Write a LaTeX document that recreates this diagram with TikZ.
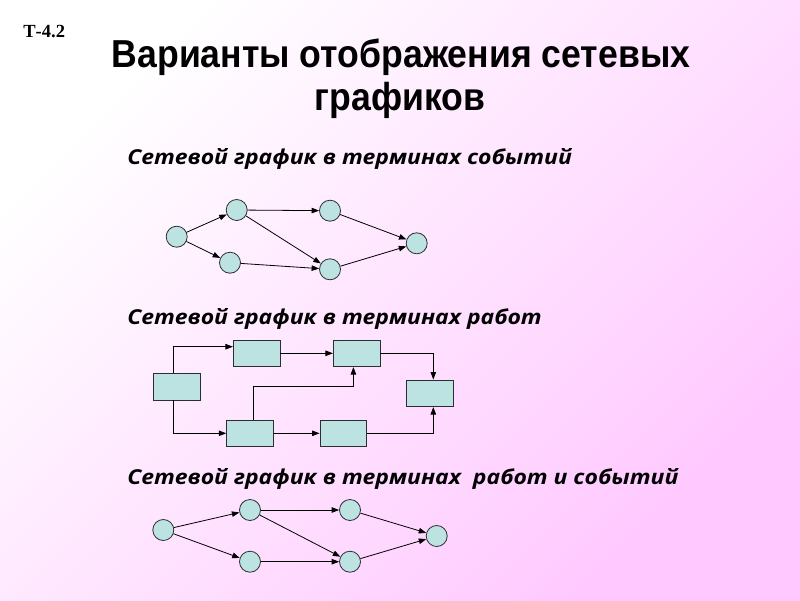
\documentclass[tikz,border=0pt]{standalone}
\usepackage{fontspec}
\setmainfont{Liberation Serif}
\newfontfamily\titlefont[FakeStretch=0.913]{Liberation Sans}
\newfontfamily\headfont[FakeStretch=1.12]{Open Sans}
\usetikzlibrary{arrows.meta}
\definecolor{nodefill}{RGB}{189,226,226}
\definecolor{pinkbg}{RGB}{255,200,255}
\definecolor{linegray}{RGB}{45,45,45}
\tikzset{
  ev/.style={circle, draw=linegray, fill=nodefill, minimum size=21pt, inner sep=0pt},
  job/.style={rectangle, draw=linegray, fill=nodefill, minimum width=46.7pt, minimum height=26.7pt, inner sep=0pt},
  heading/.style={anchor=base west, inner sep=0pt, font=\headfont\bfseries\itshape\fontsize{20.5}{22}\selectfont},
}
\begin{document}
\begin{tikzpicture}[x=1pt, y=-1pt, >={Triangle[length=7.5pt,width=5.5pt]}, line width=0.8pt]
\shade[top color=white, bottom color=pinkbg, shading angle=45] (0,0) rectangle (800,600);
\useasboundingbox (0,0) rectangle (800,600);

% title
\node[anchor=base west, inner sep=0pt, font=\bfseries\fontsize{18.5}{20}\selectfont] (code) at (23,37) {Т-4.2};
\node[anchor=base, inner sep=0pt, font=\titlefont\bfseries\fontsize{39}{40}\selectfont] (title1) at (401,67) {Варианты отображения сетевых};
\node[anchor=base, inner sep=0pt, font=\titlefont\bfseries\fontsize{39}{40}\selectfont] (title2) at (400,110) {графиков};

% events
\node[heading] (head1) at (127,164) {Сетевой график в терминах событий};
\node[ev] (a1) at (176.7,236.7) {};
\node[ev] (b1) at (236.7,210) {};
\node[ev] (c1) at (230,262.7) {};
\node[ev] (d1) at (330,210.7) {};
\node[ev] (e1) at (330,269.3) {};
\node[ev] (f1) at (416.7,243.3) {};
\draw[->] (a1) -- (b1);
\draw[->] (a1) -- (c1);
\draw[->] (b1) -- (d1);
\draw[->] (b1) -- (e1);
\draw[->] (c1) -- (e1);
\draw[->] (d1) -- (f1);
\draw[->] (e1) -- (f1);

% jobs
\node[heading] (head2) at (127,324) {Сетевой график в терминах работ};
\node[job] (j1) at (176.7,386.7) {};
\node[job] (j2) at (256.7,353.3) {};
\node[job] (j3) at (356.7,353.3) {};
\node[job] (j4) at (430,393.3) {};
\node[job] (j5) at (250,433.3) {};
\node[job] (j6) at (343.3,433.3) {};
\coordinate (bend) at (253.3,386.7);
\draw[->] ([xshift=-3.3pt]j1.north) |- ([yshift=6.6pt]j2.west);
\draw[->] ([xshift=-3.3pt]j1.south) |- (j5.west);
\draw[->] (j2) -- (j3);
\draw[->] (j3.east) -| ([xshift=3.3pt]j4.north);
\draw[->] ([xshift=3.3pt]j5.north) -- (bend) -| ([xshift=-3.3pt]j3.south);
\draw[->] (j5) -- (j6);
\draw[->] (j6.east) -| ([xshift=3.3pt]j4.south);

% jobs and events
\node[heading] (head3) at (127,484) {Сетевой график в терминах\ \ работ и событий};
\node[ev] (a3) at (163.3,530) {};
\node[ev] (b3) at (250,510) {};
\node[ev] (c3) at (250,561.7) {};
\node[ev] (d3) at (350,510) {};
\node[ev] (e3) at (350,561.7) {};
\node[ev] (f3) at (436.7,536) {};
\draw[->] (a3) -- (b3);
\draw[->] (a3) -- (c3);
\draw[->] (b3) -- (d3);
\draw[->] (b3) -- (e3);
\draw[->] (c3) -- (e3);
\draw[->] (d3) -- (f3);
\draw[->] (e3) -- (f3);
\end{tikzpicture}
\end{document}
